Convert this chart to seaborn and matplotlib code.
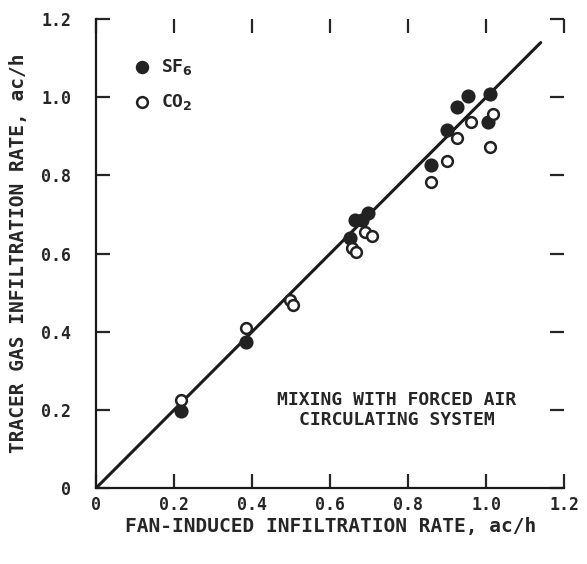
import numpy as np
import pandas as pd
import seaborn as sns
import matplotlib
matplotlib.use("Agg")
import matplotlib.pyplot as plt

sf6_x = [0.218, 0.385, 0.651, 0.664, 0.682, 0.697, 0.859, 0.900, 0.926, 0.954, 1.010, 1.005]
sf6_y = [0.197, 0.374, 0.641, 0.687, 0.687, 0.705, 0.826, 0.915, 0.974, 1.003, 1.008, 0.936]
co2_x = [0.218, 0.385, 0.497, 0.505, 0.656, 0.667, 0.690, 0.708, 0.859, 0.900, 0.926, 0.962, 1.018, 1.010]
co2_y = [0.226, 0.410, 0.482, 0.469, 0.615, 0.605, 0.656, 0.646, 0.782, 0.836, 0.895, 0.936, 0.956, 0.874]
line_x = [0.0, 1.14]
ticks = [0, 0.2, 0.4, 0.6, 0.8, 1.0, 1.2]
tick_labels = ["0", "0.2", "0.4", "0.6", "0.8", "1.0", "1.2"]

sns.set_style("ticks")
plt.rcParams['font.family'] = ['DejaVu Sans Mono', 'DejaVu Sans']
plt.rcParams['font.weight'] = 'bold'
plt.rcParams['mathtext.default'] = 'bf'

fig = plt.figure(figsize=(5.87, 5.64), dpi=100)
ax = fig.add_axes([0.164, 0.135, 0.797, 0.831])

df = pd.concat([
    pd.DataFrame({"x": sf6_x, "y": sf6_y, "gas": "SF6"}),
    pd.DataFrame({"x": co2_x, "y": co2_y, "gas": "CO2"}),
])
sns.lineplot(x=line_x, y=line_x, ax=ax, color="#1a1a1a", lw=2.2)
sns.scatterplot(data=df[df.gas == "SF6"], x="x", y="y", ax=ax, s=75,
                color="#222222", edgecolor="#222222", linewidth=1.5, zorder=3)
sns.scatterplot(data=df[df.gas == "CO2"], x="x", y="y", ax=ax, s=60,
                facecolor="white", edgecolor="#222222", linewidth=1.8, zorder=3)

ax.set_xlim(0, 1.2)
ax.set_ylim(0, 1.2)
ax.set_xticks(ticks)
ax.set_xticklabels(tick_labels)
ax.set_yticks(ticks)
ax.set_yticklabels(tick_labels)
ax.tick_params(direction="in", length=10, width=1.6, labelsize=12,
               top=True, right=True)
ax.tick_params(axis="x", pad=6)
ax.tick_params(axis="y", pad=18)
for s in ax.spines.values():
    s.set_linewidth(1.6)
    s.set_color("#1a1a1a")
ax.spines['top'].set_visible(False)
ax.spines['right'].set_visible(False)

ax.set_xlabel("FAN-INDUCED INFILTRATION RATE, ac/h", fontsize=14, fontweight="bold", va="center")
ax.set_ylabel("TRACER GAS INFILTRATION RATE, ac/h", fontsize=14, fontweight="bold", va="center")
ax.xaxis.set_label_coords(0.5, -0.083)
ax.yaxis.set_label_coords(-0.167, 0.5)

# legend
ax.scatter([0.118], [1.077], s=75, color="#222222", zorder=3)
ax.text(0.165, 1.077, "SF$_6$", fontsize=13, fontweight="bold", va="center")
ax.scatter([0.118], [0.987], s=60, facecolor="white", edgecolor="#222222", linewidth=1.8, zorder=3)
ax.text(0.165, 0.987, "CO$_2$", fontsize=13, fontweight="bold", va="center")

ax.text(0.77, 0.20, "MIXING WITH FORCED AIR\nCIRCULATING SYSTEM", fontsize=13,
        fontweight="bold", va="center", ha="center", linespacing=1.15)

fig.savefig("out.png", dpi=100)
